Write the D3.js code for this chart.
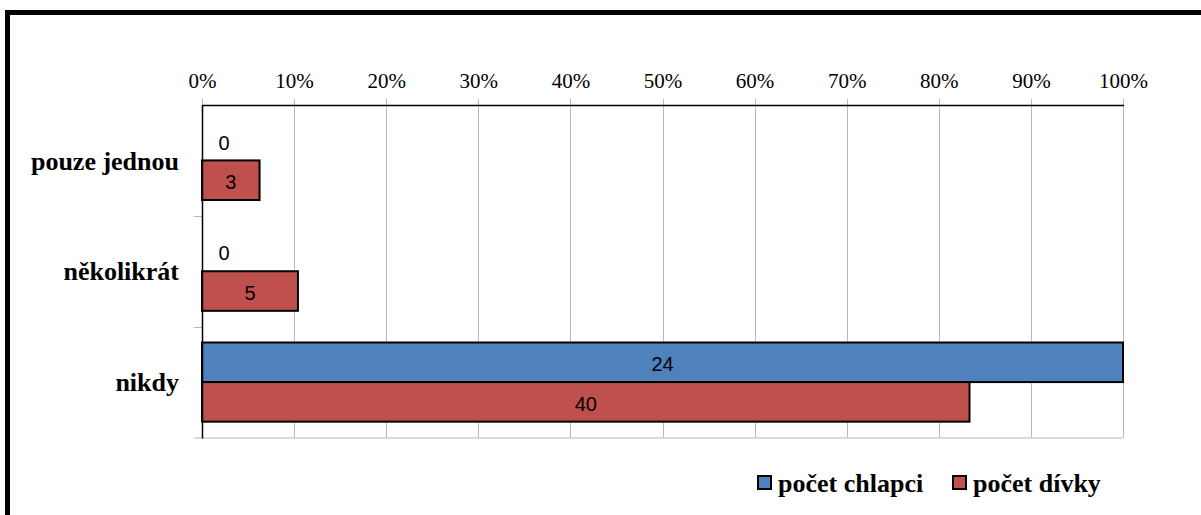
<!DOCTYPE html>
<html>
<head>
<meta charset="utf-8">
<script src="https://cdn.jsdelivr.net/npm/d3@7"></script>
<style>
  html, body { margin: 0; padding: 0; background: #fff; }
  svg { display: block; }
</style>
</head>
<body>
<svg id="chart" width="1201" height="515"></svg>
<script>
// Answer categories (top to bottom)
const categories = ["pouze jednou", "několikrát", "nikdy"];
// Series names
const seriesNames = ["počet chlapci", "počet dívky"];
// Counts per category
const boys = [0, 0, 24];
const girls = [3, 5, 40];
// Axis tick labels
const tickValues = [0, 0.1, 0.2, 0.3, 0.4, 0.5, 0.6, 0.7, 0.8, 0.9, 1.0];
const colors = ["#4F81BD", "#C0504D"];

const series = [boys, girls];
const totals = series.map(s => d3.sum(s));

const serif = "'Liberation Serif', 'Times New Roman', serif";
const sans = "'Liberation Sans', Arial, sans-serif";

const svg = d3.select("#chart");

// Outer frame
svg.append("rect")
  .attr("x", 7.5).attr("y", 12.5)
  .attr("width", 1220).attr("height", 540)
  .attr("fill", "none").attr("stroke", "#000").attr("stroke-width", 5);

const plot = { left: 202, right: 1123, top: 105, bottom: 437.5 };

const x = d3.scaleLinear().domain([0, 1]).range([plot.left, plot.right]);
const y = d3.scaleBand().domain(categories).range([plot.top, plot.bottom]).paddingInner(0).paddingOuter(0);
const ySub = d3.scaleBand().domain(seriesNames).range([0, y.bandwidth()]).paddingInner(0).paddingOuter(0.4);

// Vertical gridlines (extend above the plot as tick marks)
svg.append("g").selectAll("line")
  .data(tickValues.slice(1))
  .join("line")
  .attr("x1", d => Math.round(x(d)) + 0.5).attr("x2", d => Math.round(x(d)) + 0.5)
  .attr("y1", plot.top - 6).attr("y2", plot.bottom)
  .attr("stroke", "#b8b8b8").attr("stroke-width", 1);

// Top tick at 0
svg.append("line")
  .attr("x1", plot.left + 0.5).attr("x2", plot.left + 0.5)
  .attr("y1", plot.top - 6).attr("y2", plot.top)
  .attr("stroke", "#b8b8b8");

// Bottom border (grey)
svg.append("line")
  .attr("x1", plot.left - 8).attr("x2", plot.right + 0.5)
  .attr("y1", plot.bottom + 0.5).attr("y2", plot.bottom + 0.5)
  .attr("stroke", "#b8b8b8");

// Category tick marks on the left
svg.append("g").selectAll("line")
  .data(categories.slice(1))
  .join("line")
  .attr("x1", plot.left - 8).attr("x2", plot.left)
  .attr("y1", d => Math.round(y(d)) + 0.5).attr("y2", d => Math.round(y(d)) + 0.5)
  .attr("stroke", "#b8b8b8");

// Top axis
const xAxis = d3.axisTop(x).tickValues(tickValues).tickFormat(d3.format(".0%")).tickSize(0).tickPadding(0);
const gx = svg.append("g").attr("transform", `translate(0,${plot.top - 17})`).call(xAxis);
gx.select(".domain").remove();
gx.selectAll("text")
  .attr("font-family", serif)
  .attr("font-size", 21).attr("fill", "#000");

// Bars
series.forEach((vals, si) => {
  const g = svg.append("g");
  categories.forEach((c, i) => {
    const share = totals[si] ? vals[i] / totals[si] : 0;
    const y0 = y(c) + ySub(seriesNames[si]);
    const h = ySub.bandwidth();
    if (vals[i] > 0) {
      g.append("rect")
        .attr("x", x(0)).attr("y", y0)
        .attr("width", x(share) - x(0)).attr("height", h)
        .attr("fill", colors[si]).attr("stroke", "#000").attr("stroke-width", 2);
    }
    const lx = vals[i] > 0 ? (x(0) + x(share)) / 2 : x(0) + 22;
    g.append("text")
      .attr("x", lx).attr("y", y0 + h / 2 + 2)
      .attr("dy", "0.35em").attr("text-anchor", "middle")
      .attr("font-family", sans)
      .attr("font-size", 20).attr("fill", "#000")
      .text(vals[i]);
  });
});

// Left axis line and top axis line
svg.append("line")
  .attr("x1", plot.left + 0.5).attr("x2", plot.left + 0.5)
  .attr("y1", plot.top).attr("y2", plot.bottom + 1)
  .attr("stroke", "#000").attr("stroke-width", 1.5);
svg.append("line")
  .attr("x1", plot.left).attr("x2", plot.right + 1)
  .attr("y1", plot.top + 0.5).attr("y2", plot.top + 0.5)
  .attr("stroke", "#000").attr("stroke-width", 1.5);

// Category labels
svg.append("g").selectAll("text")
  .data(categories)
  .join("text")
  .attr("x", 179).attr("y", d => y(d) + y.bandwidth() / 2)
  .attr("dy", "0.35em").attr("text-anchor", "end")
  .attr("font-family", serif)
  .attr("font-size", 26).attr("font-weight", "bold").attr("fill", "#000")
  .text(d => d);

// Legend
const legendX = [758, 953];
const legend = svg.append("g");
seriesNames.forEach((name, i) => {
  legend.append("rect")
    .attr("x", legendX[i]).attr("y", 476)
    .attr("width", 13).attr("height", 13)
    .attr("fill", colors[i]).attr("stroke", "#000").attr("stroke-width", 2);
  legend.append("text")
    .attr("x", legendX[i] + 20).attr("y", 483)
    .attr("dy", "0.35em")
    .attr("font-family", serif)
    .attr("font-size", 26).attr("font-weight", "bold").attr("fill", "#000")
    .text(name);
});
</script>
</body>
</html>
